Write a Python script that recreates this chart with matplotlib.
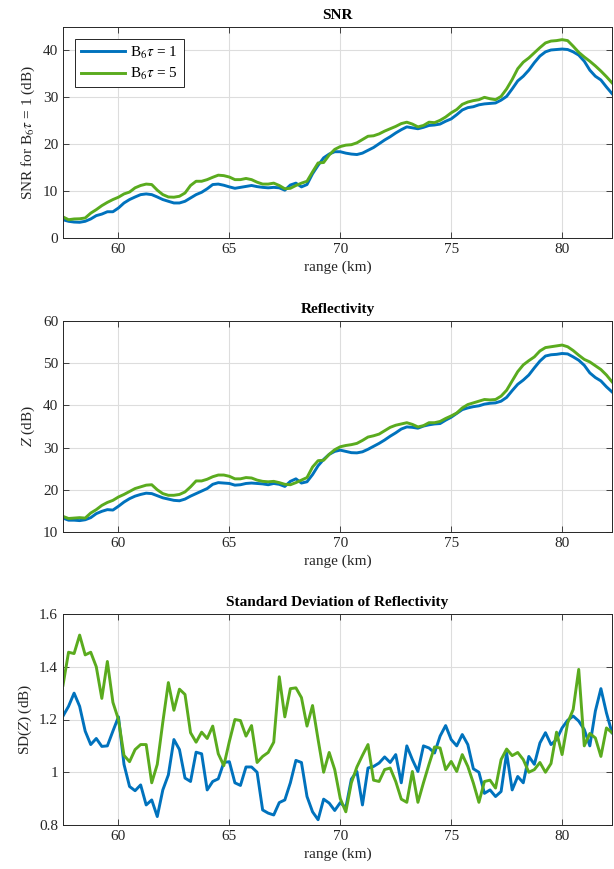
import numpy as np
import matplotlib
matplotlib.use('Agg')
import matplotlib.pyplot as plt

plt.rcParams['font.family'] = ['Liberation Serif', 'DejaVu Serif']
plt.rcParams['mathtext.fontset'] = 'stix'

# range gates (km), 0.25 km spacing
rng = np.linspace(57.5, 82.25, 100)

snr_1 = [3.9, 3.56, 3.4, 3.35, 3.56, 4.06, 4.77, 5.1, 5.6, 5.6,
         6.4, 7.47, 8.2, 8.75, 9.25, 9.4, 9.25, 8.75, 8.2, 7.83,
         7.47, 7.47, 7.83, 8.54, 9.25, 9.75, 10.5, 11.4, 11.5, 11.25,
         10.9, 10.6, 10.8, 11.0, 11.2, 10.96, 10.8, 10.7, 10.8, 10.7,
         10.2, 11.3, 11.7, 10.9, 11.4, 13.7, 15.5, 17.1, 17.9, 18.4,
         18.4, 18.1, 17.9, 17.8, 18.1, 18.7, 19.3, 20.1, 20.9, 21.6,
         22.4, 23.1, 23.7, 23.5, 23.3, 23.6, 24.0, 24.1, 24.3, 24.9,
         25.4, 26.3, 27.3, 27.8, 28.0, 28.4, 28.6, 28.7, 28.8, 29.4,
         30.2, 31.8, 33.5, 34.5, 35.8, 37.4, 38.8, 39.7, 40.1, 40.2,
         40.3, 40.2, 39.7, 39.0, 37.7, 35.8, 34.5, 33.7, 32.2, 30.8]
snr_5 = [4.5, 3.9, 4.06, 4.1, 4.27, 5.3, 6.05, 6.9, 7.6, 8.2,
         8.7, 9.4, 9.8, 10.7, 11.2, 11.5, 11.4, 10.2, 9.25, 8.75,
         8.7, 8.9, 9.6, 11.2, 12.1, 12.1, 12.45, 12.95, 13.4, 13.3,
         13.0, 12.45, 12.45, 12.7, 12.45, 11.9, 11.5, 11.5, 11.7, 11.2,
         10.5, 10.6, 11.2, 11.7, 12.1, 14.1, 16.0, 16.1, 17.7, 18.9,
         19.5, 19.8, 19.9, 20.3, 21.0, 21.7, 21.8, 22.2, 22.8, 23.3,
         23.8, 24.4, 24.7, 24.3, 23.7, 24.0, 24.7, 24.6, 25.1, 25.8,
         26.7, 27.4, 28.5, 29.0, 29.3, 29.5, 30.0, 29.7, 29.5, 30.2,
         31.8, 33.8, 36.1, 37.5, 38.4, 39.5, 40.6, 41.6, 42.0, 42.1,
         42.3, 42.1, 40.9, 39.6, 38.6, 37.7, 36.7, 35.6, 34.4, 33.1]

z_1 = [13.3, 12.8, 12.8, 12.7, 12.9, 13.4, 14.35, 14.9, 15.3, 15.2,
       16.1, 17.1, 17.9, 18.5, 18.9, 19.2, 19.1, 18.6, 18.1, 17.8,
       17.5, 17.4, 17.8, 18.5, 19.1, 19.7, 20.3, 21.3, 21.7, 21.6,
       21.5, 21.1, 21.2, 21.5, 21.6, 21.5, 21.4, 21.2, 21.5, 21.3,
       20.8, 22.0, 22.6, 21.6, 21.9, 23.6, 25.7, 27.2, 28.4, 29.1,
       29.4, 29.1, 28.8, 28.75, 29.0, 29.6, 30.3, 31.0, 31.8, 32.7,
       33.5, 34.4, 34.9, 34.8, 34.6, 35.1, 35.4, 35.6, 35.7, 36.5,
       37.2, 38.1, 39.0, 39.4, 39.7, 39.9, 40.3, 40.5, 40.6, 41.0,
       41.9, 43.5, 45.0, 46.0, 47.2, 48.9, 50.5, 51.7, 52.0, 52.1,
       52.3, 52.2, 51.5, 50.7, 49.5, 47.7, 46.6, 45.8, 44.4, 43.2]
z_5 = [13.7, 13.2, 13.3, 13.4, 13.3, 14.5, 15.3, 16.3, 17.0, 17.5,
       18.3, 18.9, 19.6, 20.3, 20.7, 21.1, 21.2, 20.0, 19.1, 18.7,
       18.7, 18.9, 19.5, 20.7, 22.1, 22.1, 22.5, 23.1, 23.5, 23.5,
       23.2, 22.6, 22.6, 22.9, 22.8, 22.3, 22.0, 21.9, 22.0, 21.7,
       21.3, 21.2, 21.7, 22.3, 22.9, 25.4, 26.9, 27.0, 28.4, 29.5,
       30.2, 30.5, 30.7, 31.0, 31.7, 32.5, 32.8, 33.2, 34.0, 34.8,
       35.3, 35.6, 35.9, 35.5, 34.9, 35.2, 35.9, 35.9, 36.2, 36.9,
       37.5, 38.2, 39.4, 40.2, 40.6, 41.0, 41.4, 41.3, 41.4, 42.2,
       43.6, 45.8, 48.0, 49.6, 50.6, 51.5, 52.9, 53.7, 53.9, 54.1,
       54.3, 53.9, 53.0, 51.9, 50.9, 50.3, 49.4, 48.5, 47.2, 45.6]

sd_1 = [1.213, 1.25, 1.30, 1.25, 1.156, 1.105, 1.128, 1.098, 1.1, 1.156,
        1.21, 1.03, 0.946, 0.93, 0.952, 0.876, 0.895, 0.832, 0.933, 0.99,
        1.124, 1.086, 0.978, 0.965, 1.076, 1.07, 0.933, 0.965, 0.975, 1.037,
        1.04, 0.96, 0.95, 1.02, 1.02, 1.0, 0.857, 0.845, 0.838, 0.885,
        0.895, 0.96, 1.045, 1.037, 0.908, 0.85, 0.82, 0.898, 0.883, 0.855,
        0.885, 0.865, 0.974, 1.003, 0.876, 1.016, 1.022, 1.035, 1.058, 1.037,
        1.067, 0.96, 1.1, 1.048, 1.003, 1.1, 1.092, 1.073, 1.137, 1.177,
        1.124, 1.1, 1.143, 1.105, 1.013, 1.0, 0.92, 0.933, 0.908, 0.927,
        1.073, 0.933, 0.984, 0.96, 1.06, 1.03, 1.111, 1.15, 1.105, 1.124,
        1.168, 1.197, 1.213, 1.194, 1.162, 1.1, 1.232, 1.317, 1.225, 1.15]
sd_5 = [1.33, 1.455, 1.45, 1.52, 1.445, 1.455, 1.40, 1.28, 1.42, 1.265,
        1.2, 1.064, 1.04, 1.086, 1.105, 1.105, 0.96, 1.03, 1.19, 1.34,
        1.235, 1.315, 1.295, 1.15, 1.114, 1.152, 1.128, 1.175, 1.07, 1.025,
        1.117, 1.2, 1.196, 1.137, 1.177, 1.037, 1.06, 1.075, 1.114, 1.362,
        1.21, 1.317, 1.32, 1.283, 1.175, 1.253, 1.124, 1.0, 1.075, 1.01,
        0.9, 0.85, 0.96, 1.02, 1.064, 1.105, 0.97, 0.965, 1.01, 1.016,
        0.965, 0.898, 0.886, 1.003, 0.886, 0.96, 1.03, 1.096, 1.092, 1.01,
        1.041, 1.003, 1.067, 1.022, 0.959, 0.886, 0.965, 0.97, 0.94, 1.048,
        1.088, 1.063, 1.075, 1.048, 1.0, 1.01, 1.037, 1.0, 1.033, 1.152,
        1.067, 1.187, 1.238, 1.39, 1.1, 1.147, 1.13, 1.06, 1.168, 1.15]

blue = '#0072BD'
green = '#5AAB1E'
lab1 = r'B$_6\tau$ = 1'
lab5 = r'B$_6\tau$ = 5'

fig = plt.figure(figsize=(6.14, 8.69), dpi=100)
w = 549 / 614
h = 211 / 869
ax1 = fig.add_axes([63 / 614, 1 - 238 / 869, w, h])
ax2 = fig.add_axes([63 / 614, 1 - 532 / 869, w, h])
ax3 = fig.add_axes([63 / 614, 1 - 825 / 869, w, h])

panels = [(ax1, snr_1, snr_5, 'SNR', r'SNR for B$_6\tau$ = 1 (dB)', (0, 45), [0, 10, 20, 30, 40]),
          (ax2, z_1, z_5, 'Reflectivity', r'$Z$ (dB)', (10, 60), [10, 20, 30, 40, 50, 60]),
          (ax3, sd_1, sd_5, 'Standard Deviation of Reflectivity', r'SD($Z$) (dB)', (0.8, 1.6),
           [0.8, 1.0, 1.2, 1.4, 1.6])]

for ax, y1, y5, title, ylab, ylim, yt in panels:
    ax.plot(rng, y1, color=blue, lw=2.1, label=lab1)
    ax.plot(rng, y5, color=green, lw=2.1, label=lab5)
    ax.set_xlim(57.5, 82.25)
    ax.set_ylim(*ylim)
    ax.set_xticks([60, 65, 70, 75, 80])
    ax.set_yticks(yt)
    ax.grid(True, color='#dddddd', lw=0.8)
    ax.set_axisbelow(True)
    ax.tick_params(direction='in', top=True, right=True, length=4, labelsize=11,
                   colors='#262626', width=0.6)
    for s in ax.spines.values():
        s.set_color('#262626')
        s.set_linewidth(0.7)
    ax.set_title(title, fontsize=11, fontweight='bold', pad=6)
    ax.set_xlabel('range (km)', fontsize=11, color='#262626', labelpad=3)
    ax.set_ylabel(ylab, fontsize=11, color='#262626', labelpad=4)

ax3.set_yticklabels(['0.8', '1', '1.2', '1.4', '1.6'])

leg = ax1.legend(loc='upper left', fontsize=11, fancybox=False, edgecolor='#262626',
                 framealpha=1, handlelength=2.9, handletextpad=0.35, borderpad=0.35,
                 borderaxespad=0.8, labelspacing=0.35)
leg.get_frame().set_linewidth(0.7)

fig.savefig('out.png', dpi=100)
